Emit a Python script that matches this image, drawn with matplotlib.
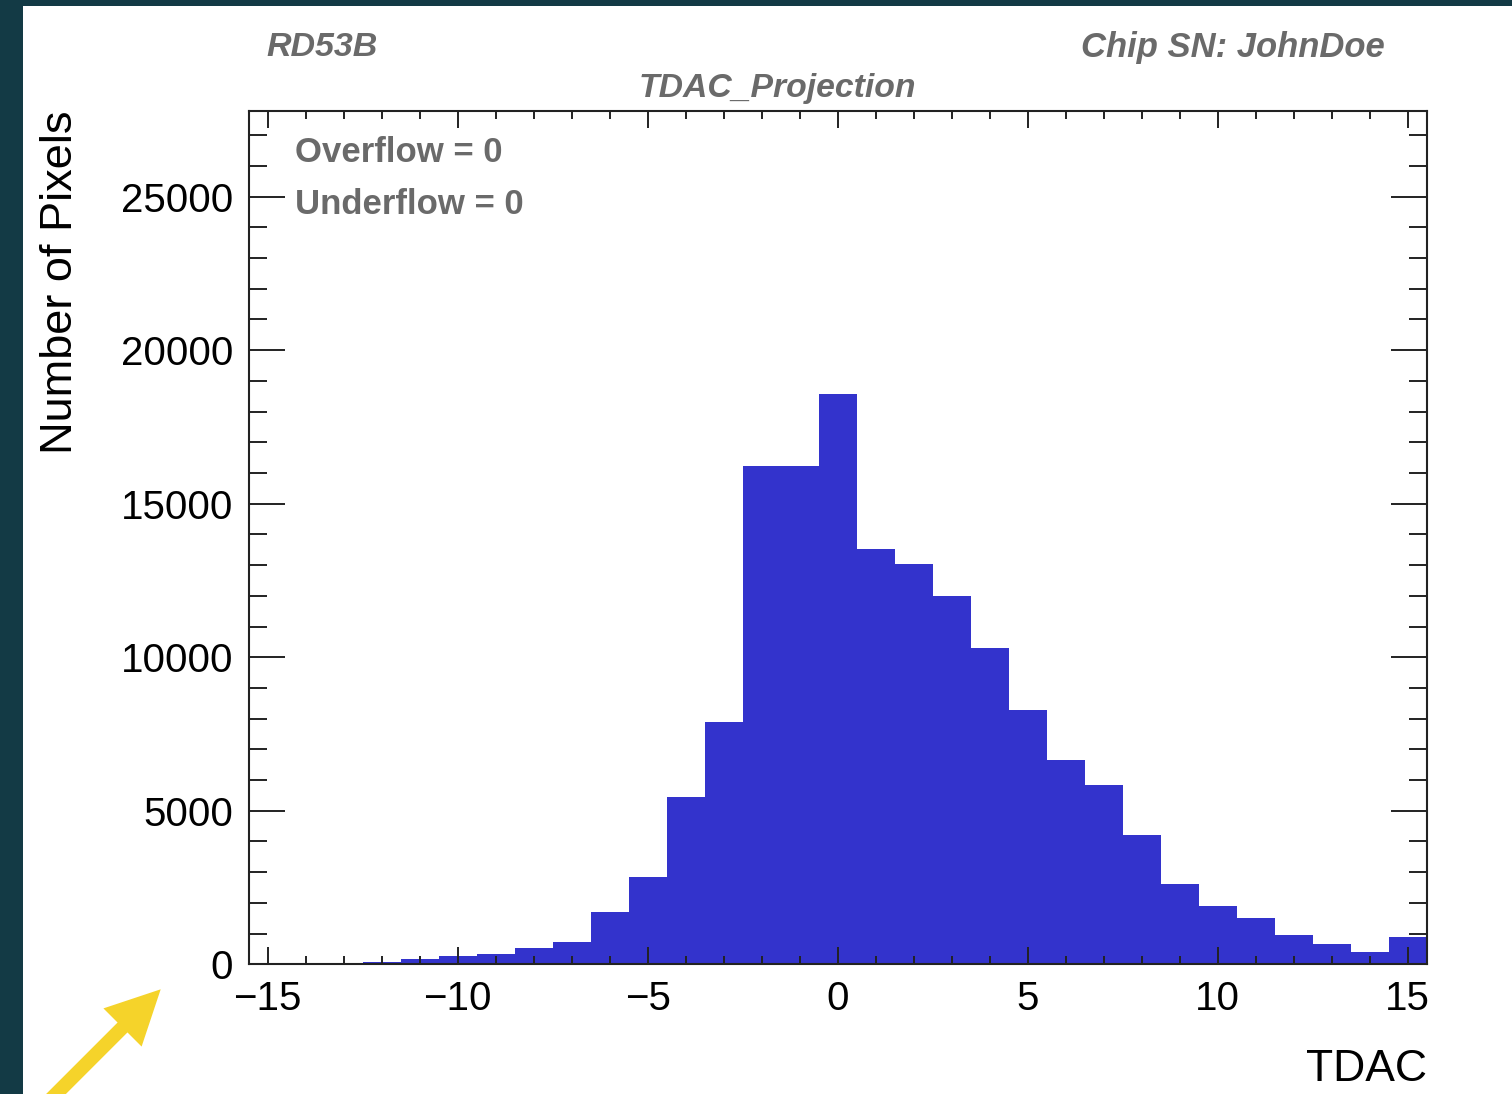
import numpy as np
import matplotlib
matplotlib.use("Agg")
import matplotlib.pyplot as plt
from matplotlib.patches import Rectangle, FancyArrow
from matplotlib.transforms import Affine2D
from matplotlib.ticker import MultipleLocator

plt.rcParams['font.family'] = ['Liberation Sans', 'DejaVu Sans']

# TDAC histogram: one bin per integer TDAC value from -15 to 15
tdac_values = list(range(-15, 16))
pixel_counts = [0, 0, 0, 90, 170, 280, 335, 520, 715, 1715, 2835, 5460, 7905,
                16235, 16235, 18560, 13540, 13050, 11980, 10285, 8285, 6655,
                5840, 4210, 2605, 1900, 1520, 955, 650, 410, 890]
x_ticks = [-15, -10, -5, 0, 5, 10, 15]
x_tick_labels = ["\u221215", "\u221210", "\u22125", "0", "5", "10", "15"]
y_ticks = [0, 5000, 10000, 15000, 20000, 25000]
y_tick_labels = ["0", "5000", "10000", "15000", "20000", "25000"]

W, H = 1512, 1094
fig = plt.figure(figsize=(W / 100, H / 100), dpi=100)
fig.patch.set_facecolor("#133a45")

# white canvas of the plot page
fig.patches.append(Rectangle((23 / W, 0), 1 - 23 / W, 1 - 6 / H,
                             transform=fig.transFigure, facecolor="white",
                             edgecolor="none", zorder=-10))

ax = fig.add_axes([248.5 / W, 1 - 964.3 / H, (1426.5 - 248.5) / W, (964.3 - 110.7) / H])
ax.set_zorder(1)
ax.set_facecolor("white")

edges = np.arange(tdac_values[0] - 0.5, tdac_values[-1] + 1.0, 1.0)
ax.stairs(pixel_counts, edges, fill=True, color="#3333cc", linewidth=0)

ax.set_xlim(edges[0], edges[-1])
ax.set_ylim(0, 27800)

ax.set_xticks(x_ticks)
ax.set_xticklabels(x_tick_labels)
ax.set_yticks(y_ticks)
ax.set_yticklabels(y_tick_labels)
ax.xaxis.set_minor_locator(MultipleLocator(1))
ax.yaxis.set_minor_locator(MultipleLocator(1000))

for sp in ax.spines.values():
    sp.set_linewidth(1.5)
    sp.set_color("#222222")

ax.tick_params(axis='x', which='both', direction='in', top=True, bottom=True,
               width=1.4, color="#222222", labelsize=29, pad=11)
ax.tick_params(axis='x', which='major', length=12.5)
ax.tick_params(axis='x', which='minor', length=6)
ax.tick_params(axis='y', which='both', direction='in', left=True, right=True,
               width=1.4, color="#222222", labelsize=29, pad=11)
ax.tick_params(axis='y', which='major', length=26)
ax.tick_params(axis='y', which='minor', length=13)

# axis titles
fig.text(1426.7 / W, 1 - 1080.7 / H, "TDAC", ha="right", va="baseline",
         fontsize=32, color="black")
fig.text(61 / W, 1 - 111 / H, "Number of Pixels", rotation=90, ha="center",
         va="top", fontsize=32.5, color="black")

# header texts
grey = "#6a6a6a"
fig.text(266 / W, 1 - 56.5 / H, "RD53B", ha="left", va="baseline", fontsize=24.5,
         fontweight="bold", fontstyle="italic", color=grey)
fig.text(1385 / W, 1 - 56.5 / H, "Chip SN: JohnDoe", ha="right", va="baseline",
         fontsize=24.9, fontweight="bold", fontstyle="italic", color=grey)
fig.text(777 / W, 1 - 97 / H, "TDAC_Projection", ha="center", va="baseline",
         fontsize=24.3, fontweight="bold", fontstyle="italic", color=grey)

# overflow / underflow counters
fig.text(295 / W, 1 - 161.5 / H, "Overflow = 0", ha="left", va="baseline",
         fontsize=25, fontweight="bold", color=grey)
fig.text(295 / W, 1 - 213.5 / H, "Underflow = 0", ha="left", va="baseline",
         fontsize=25, fontweight="bold", color=grey)

# yellow pointer arrow in the lower-left corner (pixel units)
px = Affine2D().scale(1 / W, 1 / H) + fig.transFigure
tip = (160.7, H - 989.3)
start = (48.0, -8.0)
fig.patches.append(FancyArrow(start[0], start[1], tip[0] - start[0], tip[1] - start[1],
                              width=14, head_width=54, head_length=54,
                              length_includes_head=True, transform=px,
                              facecolor="#f5d32a", edgecolor="none", zorder=5))

fig.savefig("out.png", dpi=100, facecolor=fig.get_facecolor())
